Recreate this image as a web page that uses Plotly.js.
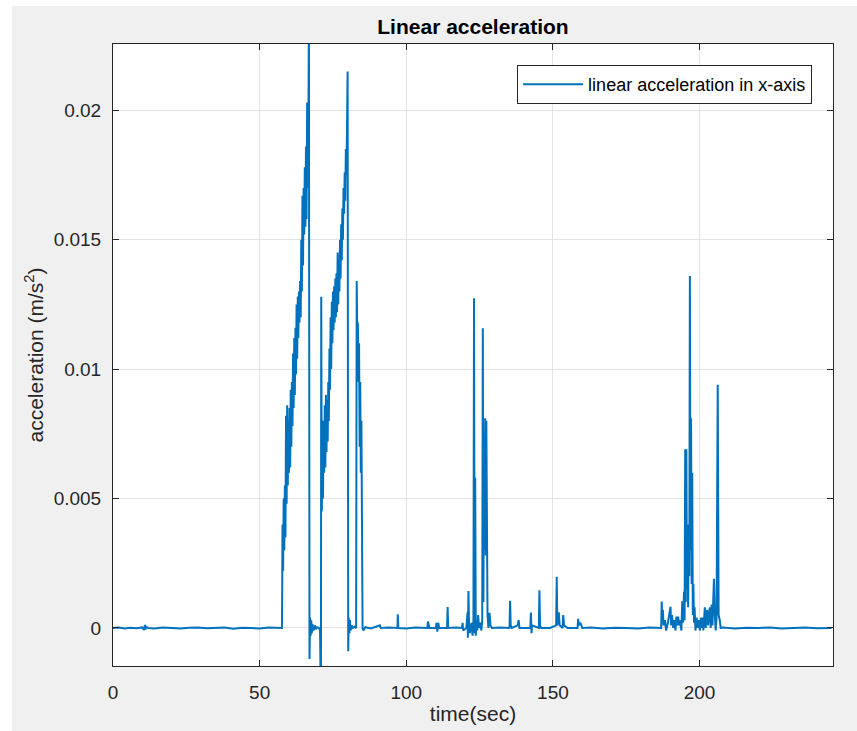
<!DOCTYPE html>
<html>
<head>
<meta charset="utf-8">
<script src="https://cdn.plot.ly/plotly-3.0.1.min.js"></script>
<style>
  html, body { margin: 0; padding: 0; background: #ffffff; width: 857px; height: 731px; overflow: hidden; }
  #chart { position: absolute; left: 12px; top: 6px; width: 845px; height: 725px; }
</style>
</head>
<body>
<div id="chart"></div>
<script>
// time (sec)
const time = [
  0, 2, 4, 6, 8, 10, 10.6, 10.9, 11.1, 11.4, 12, 14, 17, 20, 23, 26, 29, 32, 35, 38, 41, 44, 47, 50, 53, 56, 57.6,
  57.7, 57.8, 58.0, 58.2, 58.4, 58.6, 58.8, 59.0, 59.2, 59.4, 59.6, 59.8, 60.0, 60.2, 60.4, 60.6, 60.8, 61.0, 61.2, 61.4, 61.6, 61.8,
  62.0, 62.2, 62.4, 62.6, 62.8, 63.0, 63.2, 63.4, 63.6, 63.8, 64.0, 64.2, 64.4, 64.6, 64.8, 65.0, 65.2, 65.4, 65.6, 65.8,
  66.0, 66.2, 66.4, 66.6, 66.8, 67.0, 67.2, 67.4, 67.6, 67.8, 68.0, 68.4, 68.8, 69.2, 69.6, 70.2, 70.6, 70.9,
  71.0, 71.2, 71.4, 71.6, 71.8, 72.0, 72.2, 72.4, 72.6, 72.8, 73.0, 73.2, 73.4, 73.6, 73.8, 74.0, 74.2, 74.4, 74.6, 74.8,
  75.0, 75.2, 75.4, 75.6, 75.8, 76.0, 76.2, 76.4, 76.6, 76.8, 77.0, 77.2, 77.4, 77.6, 77.8, 78.0, 78.2, 78.4, 78.6, 78.8,
  79.0, 79.2, 79.4, 79.6, 79.8, 80.0, 80.2, 80.4, 80.6, 80.8, 81.0, 81.4, 81.8, 82.4, 82.9,
  83.1, 83.3, 83.5, 83.7, 83.9, 84.1, 84.3, 84.5, 84.7, 84.9, 85.1, 85.4, 86, 88, 91.0, 91.3, 94, 97.0, 97.1, 97.3,
  100, 103, 107.2, 107.4, 107.7, 107.9, 110.1, 110.3, 110.6, 110.9, 111.2, 113.9, 114.1, 114.3, 117, 119.0, 119.2, 119.4,
  120.5, 120.9, 121.0, 121.2, 121.4, 121.7, 122.2, 122.6, 122.9, 123.1, 123.3, 123.5, 123.7, 123.9, 124.2, 124.5, 124.8,
  125.2, 125.6, 125.9, 126.1, 126.3, 126.5, 126.7, 126.9, 127.1, 127.3, 127.5, 127.7, 128.0, 128.4, 128.7, 129.2,
  132, 135.2, 135.4, 135.6, 136, 138.0, 138.3, 138.6, 142.3, 142.5, 142.7, 142.9, 145.2, 145.4, 145.6, 146.0, 149,
  151.1, 151.3, 151.5, 152.0, 152.3, 153.3, 153.5, 153.8, 155, 158.4, 158.6, 158.9, 159.4, 160,
  163, 167, 171, 175, 179, 183, 186.9, 187.1, 187.3, 187.5, 187.7, 188.2, 188.6, 189.2, 190.1, 190.3, 190.6, 191.0,
  191.4, 191.8, 192.1, 192.4, 192.7, 193.0, 193.3, 193.8, 194.1, 194.4, 194.7, 194.9, 195.1, 195.3, 195.5, 195.7, 195.9,
  196.1, 196.3, 196.5, 196.7, 196.9, 197.1, 197.3, 197.5, 197.7, 197.9, 198.1, 198.3, 198.6, 199.0, 199.4, 199.8,
  200.1, 200.5, 200.8, 201.0, 201.3, 201.8, 202.1, 202.6, 202.9, 203.5, 203.8, 204.1, 204.4, 204.9, 205.2, 205.5, 205.8,
  206.2, 206.5, 206.9, 207.2, 208, 212, 216, 220, 224, 228, 232, 236, 240, 245
];

// linear acceleration in x-axis (m/s^2)
const accelX = [
  0, 0.00002, -0.00002, 0.00001, -0.00001, 0.00002, -0.00008, 0.00012, -0.00006, 0.00003, 0, -0.00002, 0.00002, 0, -0.00002, 0.00001, 0.00002, -0.00001, 0, 0.00002, -0.00003, 0.00001, 0, -0.00002, 0.00002, 0, 0,
  0.0015, 0.0040, 0.0022, 0.0050, 0.0030, 0.0055, 0.0035, 0.0082, 0.0048, 0.0086, 0.0055, 0.0080, 0.0060, 0.0085, 0.0062, 0.0092, 0.0070, 0.0095, 0.0078, 0.0106, 0.0085, 0.0112,
  0.0090, 0.0116, 0.0098, 0.0125, 0.0104, 0.0128, 0.0112, 0.0130, 0.0118, 0.0134, 0.0120, 0.0150, 0.0130, 0.0167, 0.0140, 0.0170, 0.0152, 0.0178, 0.0155, 0.0186,
  0.0158, 0.0203, 0.0170, 0.0185, 0.0240, -0.0012, 0.0004, -0.0003, 0.0003, -0.0002, 0.00015, -0.0001, 0.0001, -0.00005, 0.00003, 0, -0.0001, -0.0030,
  0.0128, 0.0045, 0.0070, 0.0050, 0.0080, 0.0060, 0.0086, 0.0062, 0.0090, 0.0068, 0.0088, 0.0072, 0.0095, 0.0080, 0.0108, 0.0092, 0.0120, 0.0100, 0.0126, 0.0110,
  0.0130, 0.0115, 0.0132, 0.0118, 0.0135, 0.0120, 0.0137, 0.0122, 0.0145, 0.0125, 0.0140, 0.0130, 0.0150, 0.0135, 0.0156, 0.0142, 0.0162, 0.0150, 0.0170, 0.0160,
  0.0176, 0.0165, 0.0185, 0.0175, 0.0195, 0.0215, -0.0009, 0.0004, -0.0002, 0.0003, -0.0001, 0.0001, 0, 0.00005, 0,
  0.0134, 0.0110, 0.0118, 0.0095, 0.0110, 0.0070, 0.0095, 0.0060, 0.0080, 0.0040, 0, -0.0001, 0.00003, -0.00002, 0.0001, 0, 0.00002, 0, 0.00053, 0,
  -0.00002, 0.00002, 0, 0.00025, 0.0001, 0, 0, 0.0002, -0.00014, 0.0002, 0, 0, 0.00081, 0, 0.00002, 0, 0.0002, -0.0001,
  0, 0.0006, -0.00038, 0.00143, 0.0001, -0.0002, 0.0002, -0.0003, 0.0003, 0.01274, -0.0002, 0.0058, -0.0003, 0.0002, -0.0001, 0.0005, 0,
  0.0002, -0.0001, 0.0003, 0.01158, 0.0010, 0.0075, 0.0030, 0.0081, 0.0028, 0.0080, 0.0040, 0.0005, 0, 0.00058, 0.0001, 0,
  0.00002, 0, 0.00105, 0.0001, 0, 0.0001, 0.0003, 0, 0, 0.0006, -0.0002, 0.0001, 0, 0.00146, 0.0001, 0, 0,
  0.0001, 0.00198, 0.0001, 0.0006, 0.0001, 0, 0.0005, 0.0001, 0, 0, 0.00035, 0.0001, 0.0002, 0,
  0.00002, -0.00002, 0.00001, 0, -0.00002, 0.00002, 0, 0.00102, 0.0002, 0.0007, 0.0001, 0.0003, -0.0001, 0.0002, 0.00082, 0.0001, 0.0005, 0,
  0.0003, -0.0001, 0.00044, 0.0001, 0.00044, 0.0001, 0.0003, -0.0001, 0.00103, 0.0002, 0.0014, 0.0003, 0.0069, 0.0010, 0.0069, 0.0015, 0.0030,
  0.0008, 0.0040, 0.0020, 0.0136, 0.0030, 0.0081, 0.0017, 0.0060, 0.0005, 0.0017, 0.0002, 0.0008, -0.0001, 0.0004, 0, 0.0003,
  -0.0001, 0.0004, 0, 0.0004, -0.0001, 0.0008, 0, 0.0007, 0.0001, 0.0008, 0, 0.0009, 0.0001, 0.0019, 0.0005, -0.0001, 0.0004,
  0.0094, 0.0005, 0.0003, 0, 0.00002, -0.00002, 0.00001, 0, 0.00002, -0.00002, 0, 0.00002, -0.00001, 0
];

const xTickVals = [0, 50, 100, 150, 200];
const xTickText = ['0', '50', '100', '150', '200'];
const yTickVals = [0, 0.005, 0.01, 0.015, 0.02];
const yTickText = ['0', '0.005', '0.01', '0.015', '0.02'];

const axisColor = '#262626';
const gridColor = '#e3e3e3';
const font = 'Liberation Sans, Arial, Helvetica, sans-serif';

const trace = {
  x: time,
  y: accelX,
  type: 'scatter',
  mode: 'lines',
  name: 'linear acceleration in x-axis',
  line: { color: '#0072BD', width: 2 },
  hoverinfo: 'skip'
};

const layout = {
  width: 845,
  height: 725,
  margin: { l: 101, r: 24, t: 38, b: 65 },
  paper_bgcolor: '#f0f0f0',
  plot_bgcolor: '#ffffff',
  font: { family: font, color: axisColor, size: 19 },
  title: {
    text: '<b>Linear acceleration</b>',
    font: { family: font, size: 21, color: '#000000' },
    x: 0.5, xref: 'paper', xanchor: 'center',
    y: 1 - 21 / 725, yref: 'container', yanchor: 'middle'
  },
  xaxis: {
    range: [0, 245.5],
    tickvals: xTickVals,
    ticktext: xTickText,
    ticks: 'inside',
    ticklen: 6,
    tickcolor: axisColor,
    showline: true,
    linecolor: axisColor,
    linewidth: 1,
    mirror: 'ticks',
    showgrid: true,
    gridcolor: gridColor,
    zeroline: false,
    ticklabelstandoff: 9,
    tickfont: { family: font, size: 19, color: axisColor },
    title: { text: 'time(sec)', font: { family: font, size: 21, color: axisColor }, standoff: 4 }
  },
  yaxis: {
    range: [-0.00147, 0.02256],
    tickvals: yTickVals,
    ticktext: yTickText,
    ticks: 'inside',
    ticklen: 6,
    tickcolor: axisColor,
    showline: true,
    linecolor: axisColor,
    linewidth: 1,
    mirror: 'ticks',
    showgrid: true,
    gridcolor: gridColor,
    zeroline: false,
    ticklabelstandoff: 7,
    tickfont: { family: font, size: 19, color: axisColor },
    title: { text: 'acceleration (m/s<sup>2</sup>)', font: { family: font, size: 21, color: axisColor }, standoff: 4 }
  },
  showlegend: true,
  legend: {
    x: 0.971, y: 0.966, xanchor: 'right', yanchor: 'top',
    bgcolor: '#ffffff',
    bordercolor: axisColor,
    borderwidth: 1,
    itemwidth: 60,
    font: { family: font, size: 18, color: '#000000' }
  }
};

Plotly.newPlot('chart', [trace], layout, { displayModeBar: false, staticPlot: true });
</script>
</body>
</html>
